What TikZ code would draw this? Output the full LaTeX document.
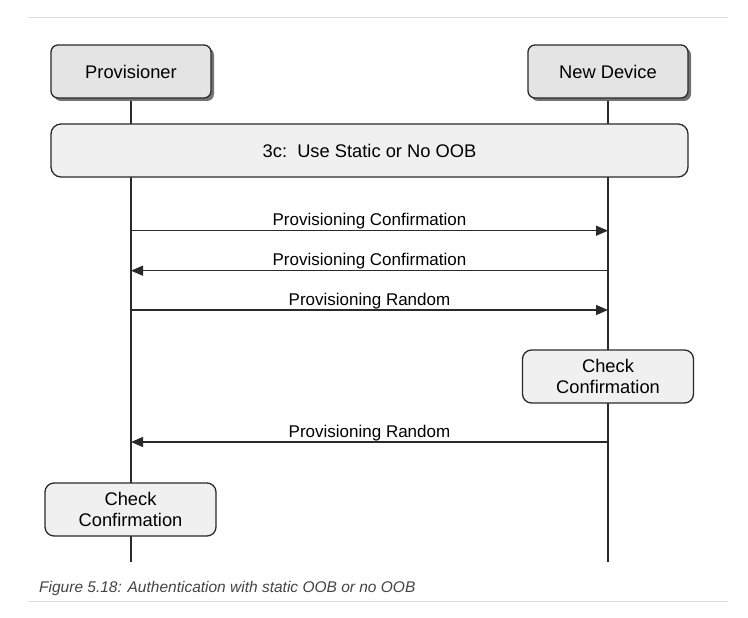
\documentclass[tikz,border=0pt]{standalone}
\usepackage{fontspec}
\setmainfont{Liberation Sans}
\usetikzlibrary{arrows.meta,shadows,backgrounds}
\definecolor{titlefill}{HTML}{E4E4E4}
\definecolor{boxfill}{HTML}{F0F0F0}
\definecolor{edge}{HTML}{2A2A2A}
\definecolor{rule}{HTML}{DCDCDC}
\definecolor{captioncol}{HTML}{444444}
\begin{document}
\begin{tikzpicture}[x=1pt,y=-1pt,
  titlebox/.style={draw=edge, line width=1.3pt, fill=titlefill, rounded corners=7pt,
    minimum width=160pt, minimum height=53pt, inner sep=0pt,
    font=\fontsize{18.3}{21.5}\selectfont,
    drop shadow={shadow xshift=3pt, shadow yshift=-3pt, fill=black!55, opacity=1}},
  phasebox/.style={draw=edge, line width=1.3pt, fill=boxfill, rounded corners=10pt,
    minimum width=637pt, minimum height=53pt, inner sep=0pt,
    font=\fontsize{18.3}{21.5}\selectfont},
  checkbox/.style={draw=edge, line width=1.3pt, fill=boxfill, rounded corners=9pt,
    minimum width=171pt, minimum height=53pt, inner sep=0pt, align=center,
    font=\fontsize{18.3}{21.5}\selectfont},
  lifeline/.style={draw=edge, line width=1.4pt},
  msg/.style={draw=edge, line width=1.3pt, -{Triangle[length=12pt,width=10pt]}},
  msglabel/.style={anchor=base, inner sep=0pt, font=\fontsize{17}{20}\selectfont},
  caption/.style={anchor=base west, inner sep=0pt, text=captioncol,
    font=\fontsize{15.5}{18}\selectfont\itshape},
  rulestyle/.style={draw=rule, line width=1pt}
]
\useasboundingbox (0,0) rectangle (748,618);

% horizontal rules
\coordinate (r1a) at (28,18);
\coordinate (r1b) at (728,18);
\coordinate (r2a) at (28,601);
\coordinate (r2b) at (728,601);
\draw[rulestyle] (r1a) -- (r1b);
\draw[rulestyle] (r2a) -- (r2b);

% participants
\node[titlebox] (prov) at (131,71.5) {Provisioner};
\node[titlebox] (dev) at (608,71.5) {New Device};

% lifeline ends
\coordinate (provend) at (131,562);
\coordinate (devend) at (608,562);

% phase box
\node[phasebox] (phase) at (369.5,150.5) {3c:\ \ Use Static or No OOB};

% check boxes
\node[checkbox] (chkdev) at (608,376.5) {Check\\Confirmation};
\node[checkbox] (chkprov) at (130.5,509.5) {Check\\Confirmation};

\begin{pgfonlayer}{background}
  \draw[lifeline] (prov.south) -- (provend);
  \draw[lifeline] (dev.south) -- (devend);
\end{pgfonlayer}

% message anchors on lifelines
\coordinate (p1) at (131,230.7);  \coordinate (d1) at (608,230.7);
\coordinate (p2) at (131,270.7);  \coordinate (d2) at (608,270.7);
\coordinate (p3) at (131,310);    \coordinate (d3) at (608,310);
\coordinate (p4) at (131,442);    \coordinate (d4) at (608,442);

\draw[msg] (p1) -- (d1);
\draw[msg] (d2) -- (p2);
\draw[msg] (p3) -- (d3);
\draw[msg] (d4) -- (p4);

\node[msglabel] (l1) at (369.5,225.7) {Provisioning Confirmation};
\node[msglabel] (l2) at (369.5,265.2) {Provisioning Confirmation};
\node[msglabel] (l3) at (369.5,305) {Provisioning Random};
\node[msglabel] (l4) at (369.5,437) {Provisioning Random};

% caption
\node[caption] (cap) at (39,592) {Figure 5.18: Authentication with static OOB or no OOB};
\end{tikzpicture}
\end{document}
